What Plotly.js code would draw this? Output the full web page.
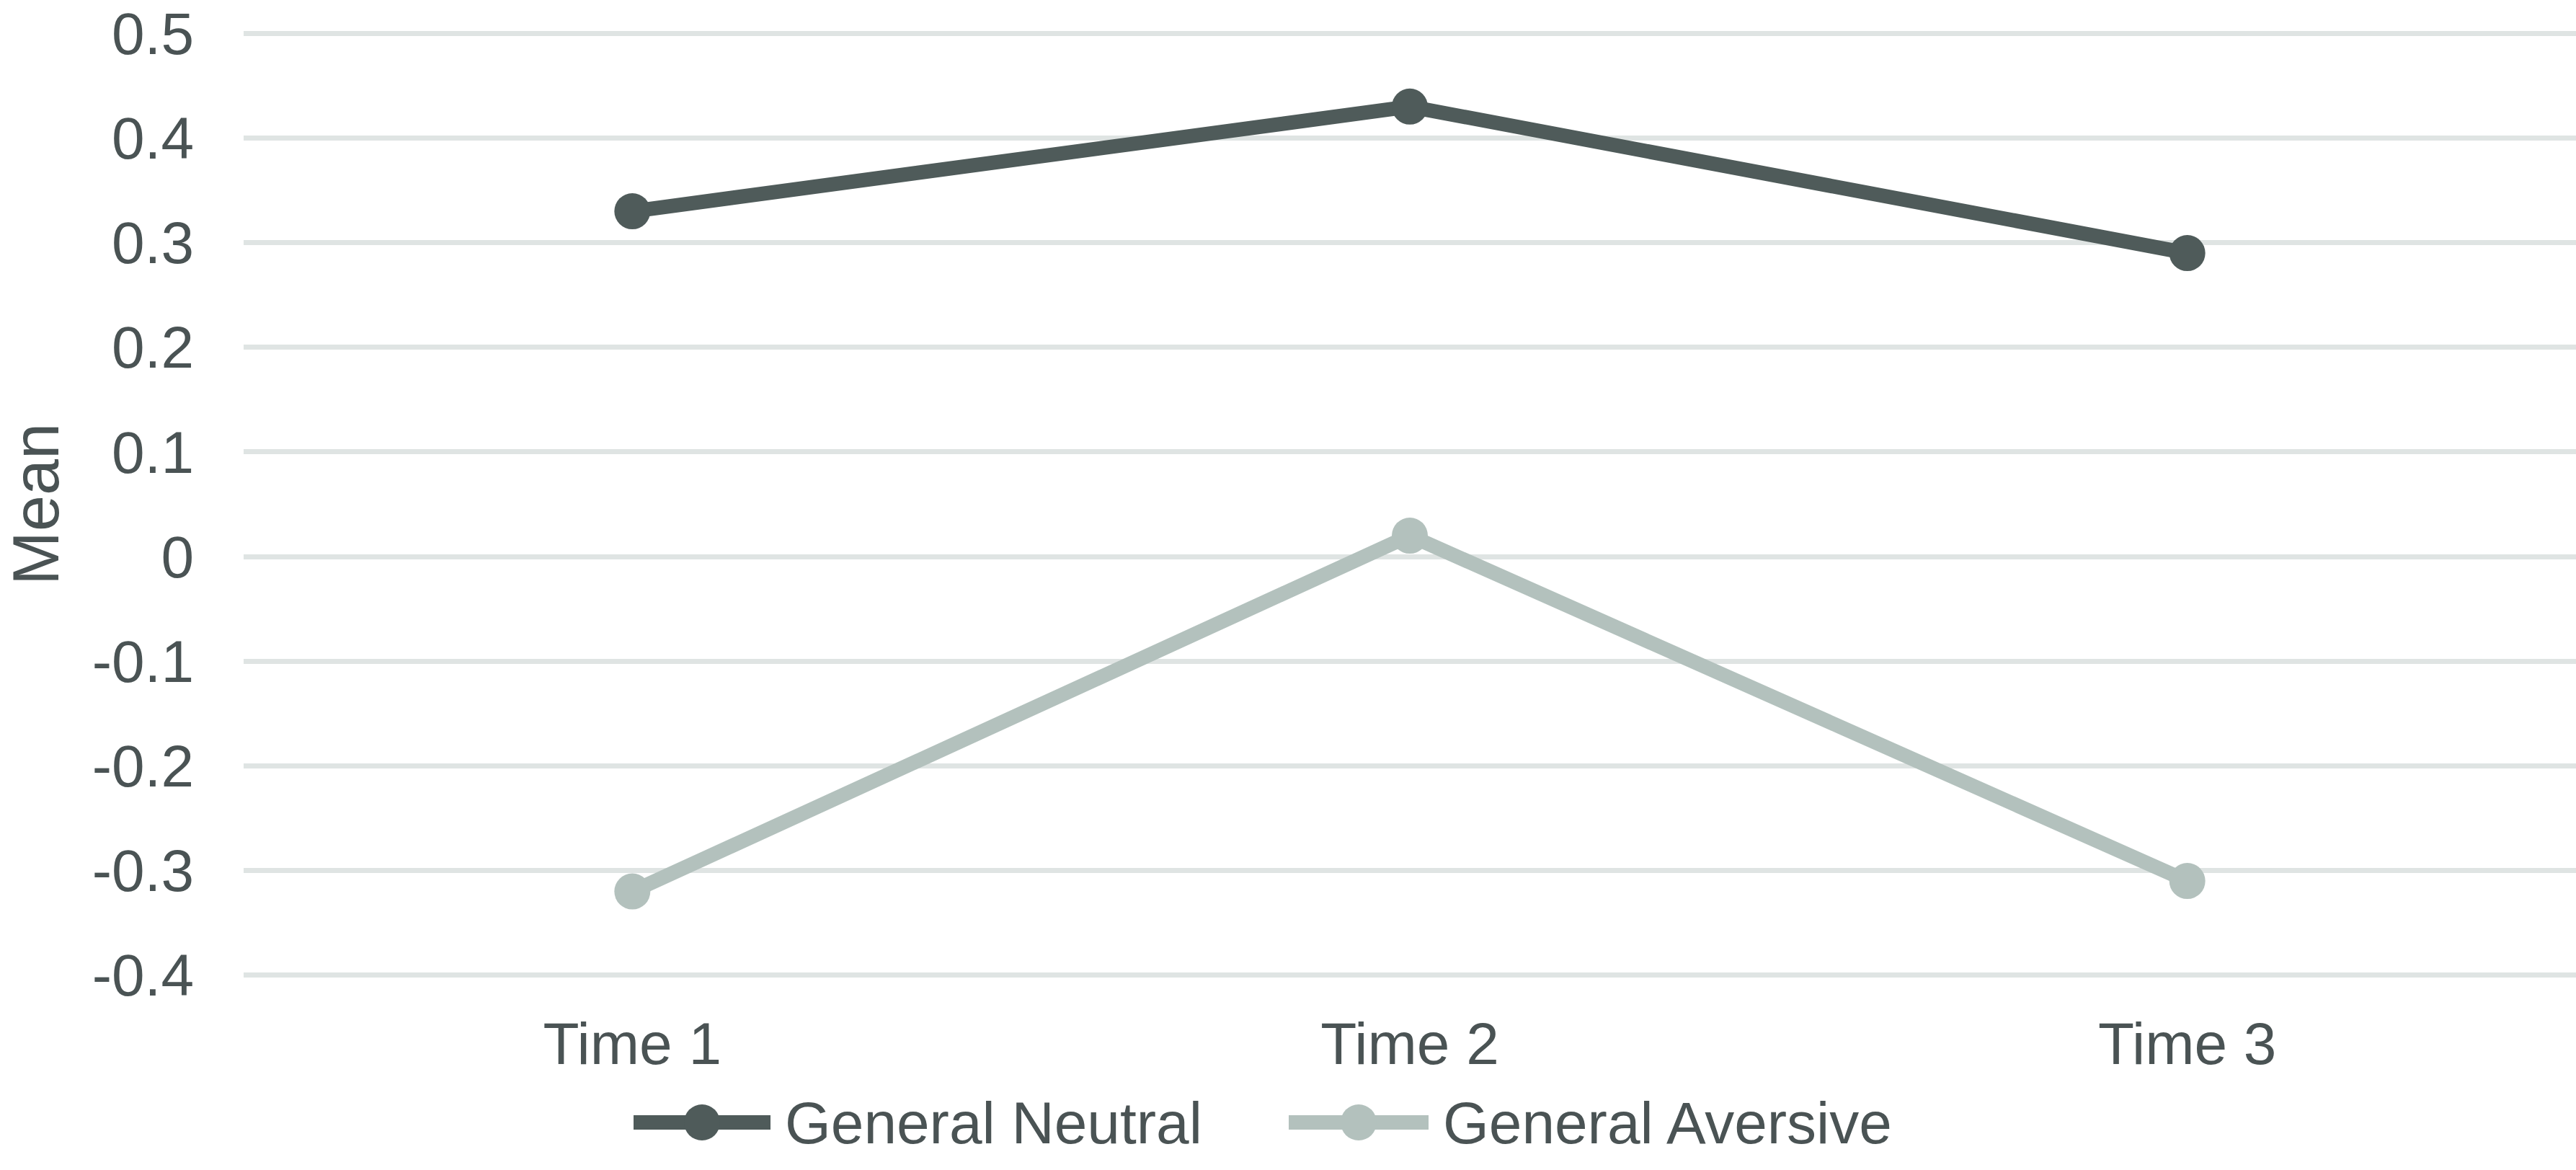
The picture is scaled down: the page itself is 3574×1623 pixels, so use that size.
<!DOCTYPE html>
<html>
<head>
<meta charset="utf-8">
<script src="https://cdn.plot.ly/plotly-3.0.1.min.js"></script>
<style>
  html, body { margin: 0; padding: 0; background: #ffffff; }
  #chart { width: 3574px; height: 1623px; }
</style>
</head>
<body>
<div id="chart"></div>
<script>
// ---- data ----
var categories = ['Time 1', 'Time 2', 'Time 3'];
var seriesNames = ['General Neutral', 'General Aversive'];
var generalNeutral = [0.33, 0.43, 0.29];
var generalAversive = [-0.32, 0.02, -0.31];
var yTickValues = [0.5, 0.4, 0.3, 0.2, 0.1, 0, -0.1, -0.2, -0.3, -0.4];
var yTickLabels = ['0.5', '0.4', '0.3', '0.2', '0.1', '0', '-0.1', '-0.2', '-0.3', '-0.4'];
var yTitle = 'Mean';

// ---- style ----
var darkColor = '#4f5b5a';
var lightColor = '#b3c1bd';
var textColor = '#4a5354';
var gridColor = '#dfe4e3';
var fontFamily = 'Liberation Sans, Arial, sans-serif';
var seriesColors = [darkColor, lightColor];

var traces = [generalNeutral, generalAversive].map(function (vals, i) {
  return {
    type: 'scatter',
    mode: 'lines+markers',
    name: seriesNames[i],
    x: categories,
    y: vals,
    line: { color: seriesColors[i], width: 20 },
    marker: { color: seriesColors[i], size: 50 },
    showlegend: false,
    hoverinfo: 'skip'
  };
});
// draw light series first so dark one lies on top
traces.reverse();

// ---- layout geometry ----
var W = 3574, H = 1623;
var yRange = [-0.405, 0.505];          // slightly padded so edge gridlines show
var plotL = 338, plotR = 3574, plotT = 39, plotB = 1360;

// ---- custom legend (Plotly clamps legend symbol sizes) ----
function px2paperX(px) { return (px - plotL) / (plotR - plotL); }
function px2paperY(py) { return (plotB - py) / (plotB - plotT); }
var legendItems = [
  { lineStart: 879, lineEnd: 1069, textStart: 1087 },
  { lineStart: 1788, lineEnd: 1982, textStart: 2000 }
];
var legendY = 1557;
var shapes = [];
var annotations = [];
legendItems.forEach(function (it, i) {
  var yp = px2paperY(legendY);
  shapes.push({
    type: 'line', xref: 'paper', yref: 'paper',
    x0: px2paperX(it.lineStart), x1: px2paperX(it.lineEnd), y0: yp, y1: yp,
    line: { color: seriesColors[i], width: 20 }
  });
  shapes.push({
    type: 'circle', xref: 'paper', yref: 'paper',
    xsizemode: 'pixel', ysizemode: 'pixel',
    xanchor: px2paperX((it.lineStart + it.lineEnd) / 2), yanchor: yp,
    x0: -25, x1: 25, y0: -25, y1: 25,
    fillcolor: seriesColors[i], line: { width: 0 }
  });
  annotations.push({
    xref: 'paper', yref: 'paper',
    x: px2paperX(it.textStart), y: yp,
    xanchor: 'left', yanchor: 'middle',
    text: seriesNames[i], showarrow: false,
    font: { family: fontFamily, size: 82, color: textColor }
  });
});

var layout = {
  width: W,
  height: H,
  paper_bgcolor: '#ffffff',
  plot_bgcolor: '#ffffff',
  margin: { l: plotL, r: W - plotR, t: plotT, b: H - plotB, pad: 0 },
  font: { family: fontFamily, size: 82, color: textColor },
  showlegend: false,
  xaxis: {
    type: 'category',
    range: [-0.5, 2.5],
    showgrid: false,
    zeroline: false,
    showline: false,
    ticks: '',
    ticklabelstandoff: 33,
    tickfont: { family: fontFamily, size: 82, color: textColor }
  },
  yaxis: {
    range: yRange,
    tickmode: 'array',
    tickvals: yTickValues,
    ticktext: yTickLabels,
    showgrid: true,
    gridcolor: gridColor,
    gridwidth: 7,
    zeroline: false,
    showline: false,
    ticks: '',
    ticklabelstandoff: 68,
    tickfont: { family: fontFamily, size: 82, color: textColor },
    title: { text: yTitle, standoff: 40, font: { family: fontFamily, size: 90, color: textColor } }
  },
  shapes: shapes,
  annotations: annotations
};

Plotly.newPlot('chart', traces, layout, { displayModeBar: false, staticPlot: true });
</script>
</body>
</html>
